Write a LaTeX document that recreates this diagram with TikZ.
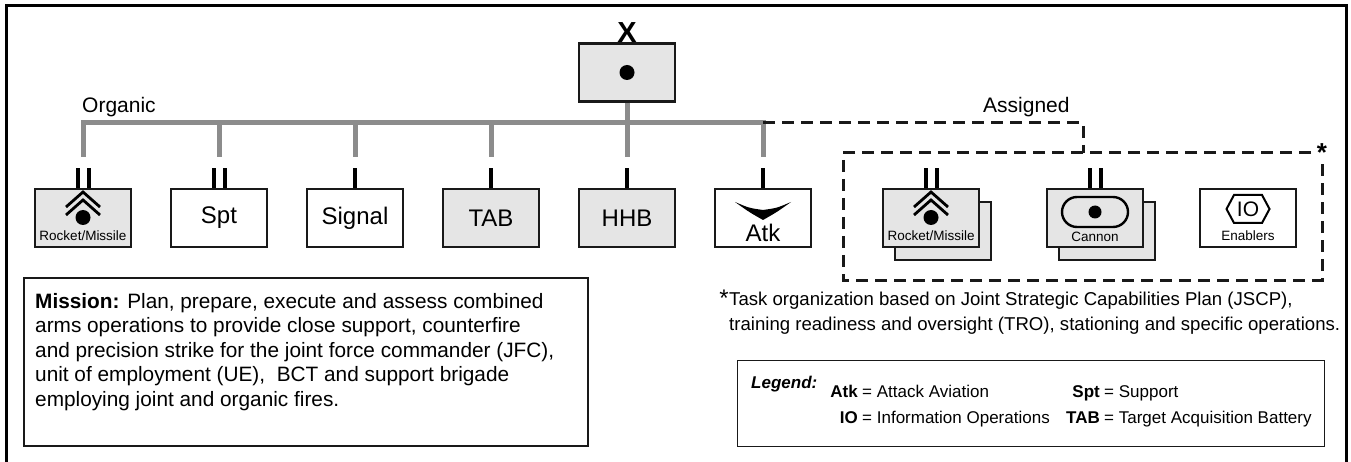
\documentclass[tikz,border=0pt]{standalone}
\usepackage{fontspec}
\setmainfont{Liberation Sans}
\usetikzlibrary{positioning}

\definecolor{boxgrey}{gray}{0.9}
\definecolor{linkgrey}{gray}{0.55}
\newcommand{\setfs}[2]{\fontsize{#1}{#2}\selectfont}

\begin{document}
\begin{tikzpicture}[x=1pt,y=-1pt,
  unit/.style={draw=black!90, line width=2.4pt, fill=white, minimum width=96pt,
    minimum height=58pt, inner sep=0pt, font=\setfs{24}{24}},
  greyunit/.style={unit, fill=boxgrey},
  organic/.style={draw=linkgrey, line width=5pt},
  assigned/.style={draw=black!90, line width=3pt, dash pattern=on 12pt off 7pt},
  echelon/.style={draw=black, line width=4pt},
  small/.style={font=\setfs{13.5}{13.5}, inner sep=0pt},
  heading/.style={font=\setfs{21}{21}, inner sep=0pt, anchor=base west},
  legendtext/.style={font=\setfs{17}{17}, inner sep=0pt}]
\useasboundingbox (0,0) rectangle (1351,462);

% Draw the frame
\draw[line width=3pt] (6,462) -- (6,6) -- (1346,6) -- (1346,462);

% Define the key points
\coordinate (bar) at (0,123);
\coordinate (drop) at (1083,153);
\coordinate (dNW) at (843,153);
\coordinate (dNE) at (1322,153);
\coordinate (dSE) at (1322,280);

% Headquarters
\node[greyunit] (HQ) at (627,72.5) {};
\fill (HQ.center) circle (7.5);
\node[font=\setfs{29}{29}\bfseries, inner sep=0pt, anchor=base] (HQx) at (HQ.north) {X};

% Organic units
\node[greyunit] (RM) at (83,218) {};
\node[unit] (Spt) at (219,218) {Spt};
\node[unit] (Sig) at (355,218) {Signal};
\node[greyunit] (TAB) at (491,218) {TAB};
\node[greyunit] (HHB) at (627,218) {HHB};
\node[unit] (Atk) at (763,218) {};

% Assigned units
\node[greyunit] (ARb) at (943,231) {};
\node[greyunit] (AR) at (931,218) {};
\node[greyunit] (Canb) at (1107,231) {};
\node[greyunit] (Can) at (1095,218) {};
\node[unit] (Enb) at (1248,218) {};

% Draw the unit symbols
\foreach \u in {RM,AR}{
  \begin{scope}[shift={(\u.center)}]
    \draw[line width=2.8pt] (-17,-11) -- (0,-26) -- (17,-11);
    \draw[line width=2.8pt] (-17,-3) -- (0,-18) -- (17,-3);
    \fill (0,-0.5) circle (7.5);
    \node[small] at (0,18) {Rocket/Missile};
  \end{scope}
}
\begin{scope}[shift={(Can.center)}]
  \draw[line width=2.4pt, rounded corners=15pt] (-33,-21) rectangle (33,9);
  \fill (0,-6) circle (6.5);
  \node[small] at (0,19) {Cannon};
\end{scope}
\begin{scope}[shift={(Enb.center)}]
  \draw[line width=2pt] (-21.5,-9) -- (-14,-23) -- (14,-23) -- (21.5,-9) -- (14,5) -- (-14,5) -- cycle;
  \node[font=\setfs{21}{21}, inner sep=0pt] at (0,-9) {IO};
  \node[small] at (0,18) {Enablers};
\end{scope}
\begin{scope}[shift={(Atk.center)}]
  \fill (-28,-16) .. controls (-14,-10) .. (0,-8) .. controls (14,-10) .. (28,-16)
    .. controls (14,-6) .. (0,2) .. controls (-14,-6) .. (-28,-16) -- cycle;
  \node[font=\setfs{24}{24}, inner sep=0pt] at (0,15) {Atk};
\end{scope}

% Draw the connectors
\draw[organic, line cap=rect] (RM.north |- bar) -- (Atk.north |- bar);
\foreach \u in {RM,Spt,Sig,TAB,HHB,Atk}
  \draw[organic] (\u.north |- bar) -- ([yshift=31pt]\u.north);
\draw[organic] (HQ.south) -- ([yshift=31pt]HHB.north);
\draw[assigned] (Atk.north |- bar) -| (drop);
\draw[assigned] ([xshift=-11pt]dNE) -- (dNW) |- (dSE) -- ([yshift=-11pt]dNE);
\node[font=\setfs{26}{26}\bfseries, inner sep=0pt] (star) at (dNE) {*};

% Echelon marks
\foreach \u in {RM,Spt,AR,Can}{
  \draw[echelon] ([xshift=-5.5pt]\u.north) -- ++(0,-20);
  \draw[echelon] ([xshift=5.5pt]\u.north) -- ++(0,-20);
}
\foreach \u in {Sig,TAB,HHB,Atk}
  \draw[echelon] (\u.north) -- ++(0,-20);

% Headings
\node[heading] (org) at (82,113) {Organic};
\node[heading] (asg) at (983,113) {Assigned};

% Mission
\node[draw=black!90, line width=2pt, minimum width=564pt, minimum height=168pt,
  anchor=north west] (mission) at (23,277) {};
\node[anchor=north west, align=left, font=\setfs{20.8}{24.5}, inner sep=0pt] (missiontext)
  at ([xshift=12pt,yshift=-16pt]mission.north west)
  {\textbf{Mission:} Plan, prepare, execute and assess combined\\
   arms operations to provide close support, counterfire\\
   and precision strike for the joint force commander (JFC),\\
   unit of employment (UE),\ \ BCT and support brigade\\
   employing joint and organic fires.};

% Task organization note
\node[anchor=north west, align=left, font=\setfs{18.6}{24.5}, inner sep=0pt] (task) at (729,292)
  {Task organization based on Joint Strategic Capabilities Plan (JSCP),\\
   training readiness and oversight (TRO), stationing and specific operations.};
\node[font=\setfs{24}{24}, inner sep=0pt, anchor=north east] (taskstar) at ([yshift=2pt]task.north west) {*};

% Legend
\node[draw=black!90, line width=1.3pt, minimum width=587pt, minimum height=86pt,
  anchor=north west] (legend) at (737,360) {};
\node[font=\setfs{17}{17}\bfseries\itshape, anchor=base west, inner sep=0pt] (legendtitle)
  at (751,388) {Legend:};
\foreach \abbr/\desc/\x/\y in {Atk/Attack Aviation/858/397, IO/Information Operations/858/423,
    Spt/Support/1100/397, TAB/Target Acquisition Battery/1100/423}{
  \node[legendtext, anchor=base east] at (\x,\y) {\textbf{\abbr}};
  \node[legendtext, anchor=base west] at (\x+4,\y) {= \desc};
}
\end{tikzpicture}
\end{document}
